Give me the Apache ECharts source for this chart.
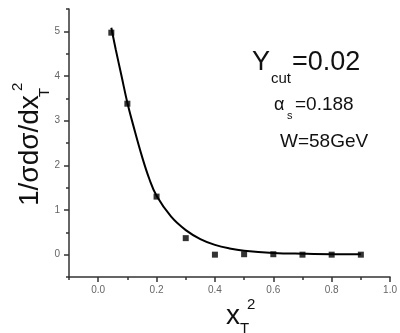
<!DOCTYPE html>
<html>
<head>
<meta charset="utf-8">
<script src="https://cdn.jsdelivr.net/npm/echarts@6/dist/echarts.min.js"></script>
<style>
  html, body { margin: 0; padding: 0; background: #fff; }
  #chart { width: 400px; height: 333px; }
</style>
</head>
<body>
<div id="chart"></div>
<script>
// measured points
const ptX = [0.045, 0.1, 0.2, 0.3, 0.4, 0.5, 0.6, 0.7, 0.8, 0.9];
const ptY = [4.97, 3.38, 1.3, 0.37, 0.0, 0.01, 0.01, 0.0, 0.0, 0.0];

// fitted curve
const curveX = [0.045, 0.06, 0.08, 0.1, 0.12, 0.15, 0.175, 0.2, 0.25, 0.3, 0.35, 0.4, 0.45, 0.5, 0.6, 0.7, 0.8, 0.9];
const curveY = [5.08, 4.6, 4.0, 3.4, 2.9, 2.2, 1.7, 1.32, 0.85, 0.55, 0.35, 0.22, 0.14, 0.09, 0.04, 0.02, 0.01, 0.01];

// ticks
const xMajor = [0, 0.2, 0.4, 0.6, 0.8, 1.0];
const xMinor = [-0.1, 0.1, 0.3, 0.5, 0.7, 0.9];
const yMajor = [0, 1, 2, 3, 4, 5];
const yMinor = [-0.5, 0.5, 1.5, 2.5, 3.5, 4.5, 5.5];

const AXIS = "#333";
const LABEL = "#666";
const FONT = "Liberation Sans, Arial, sans-serif";

const chart = echarts.init(document.getElementById("chart"));

const xBase = {
  type: "value",
  position: "bottom",
  min: -0.1,
  max: 1.0,
  splitLine: { show: false },
};
const yBase = {
  type: "value",
  position: "left",
  min: -0.5,
  max: 5.5,
  splitLine: { show: false },
};

const txt = (text, x, y, size) => ({
  type: "text",
  x: x,
  y: y,
  style: { text: text, font: size + "px " + FONT, fill: "#111", verticalAlign: "bottom" },
});

chart.setOption({
  animation: false,
  grid: { left: 69, right: 6, top: 9, bottom: 56 },
  xAxis: [
    Object.assign({}, xBase, {
      axisLine: { onZero: false, lineStyle: { color: AXIS, width: 1.5 } },
      axisTick: { customValues: xMajor, length: 5, lineStyle: { color: AXIS, width: 1.5 } },
      axisLabel: {
        customValues: xMajor,
        margin: 8,
        color: LABEL,
        fontSize: 10,
        fontFamily: FONT,
        formatter: (v) => v.toFixed(1),
      },
    }),
    Object.assign({}, xBase, {
      axisLine: { show: false, onZero: false },
      axisTick: { customValues: xMinor, length: 3, lineStyle: { color: AXIS, width: 1.5 } },
      axisLabel: { show: false },
    }),
  ],
  yAxis: [
    Object.assign({}, yBase, {
      axisLine: { show: true, onZero: false, lineStyle: { color: AXIS, width: 1.5 } },
      axisTick: { show: true, customValues: yMajor, length: 5, lineStyle: { color: AXIS, width: 1.5 } },
      axisLabel: {
        customValues: yMajor,
        margin: 9,
        color: LABEL,
        fontSize: 10,
        fontFamily: FONT,
      },
    }),
    Object.assign({}, yBase, {
      axisLine: { show: false, onZero: false },
      axisTick: { show: true, customValues: yMinor, length: 3, lineStyle: { color: AXIS, width: 1.5 } },
      axisLabel: { show: false },
    }),
  ],
  series: [
    {
      type: "line",
      data: curveX.map((x, i) => [x, curveY[i]]),
      smooth: 0.4,
      showSymbol: false,
      lineStyle: { color: "#000", width: 2 },
      z: 2,
    },
    {
      type: "scatter",
      data: ptX.map((x, i) => [x, ptY[i]]),
      symbol: "rect",
      symbolSize: 6,
      itemStyle: { color: "#000" },
      z: 3,
    },
  ],
  graphic: [
    // y axis title, rotated
    {
      type: "group",
      x: 44,
      y: 206,
      rotation: Math.PI / 2,
      children: [
        { type: "text", x: 0, y: 0, style: { text: "1/σdσ/dx", font: "28px " + FONT, fill: "#111", verticalAlign: "bottom" } },
        { type: "text", x: 109, y: 8, style: { text: "T", font: "15px " + FONT, fill: "#111", verticalAlign: "bottom" } },
        { type: "text", x: 115, y: -19, style: { text: "2", font: "15px " + FONT, fill: "#111", verticalAlign: "bottom" } },
      ],
    },
    // x axis title
    txt("x", 226, 330, 28),
    txt("T", 240, 336, 15),
    txt("2", 247, 312, 15),
    // annotations
    txt("Y", 252, 76, 27),
    txt("cut", 271, 86, 15),
    txt("=0.02", 292, 76, 27),
    txt("α", 274, 114, 18),
    txt("s", 287, 121, 11),
    txt("=0.188", 295, 114, 19),
    txt("W=58GeV", 280, 151, 19),
  ],
});
</script>
</body>
</html>
